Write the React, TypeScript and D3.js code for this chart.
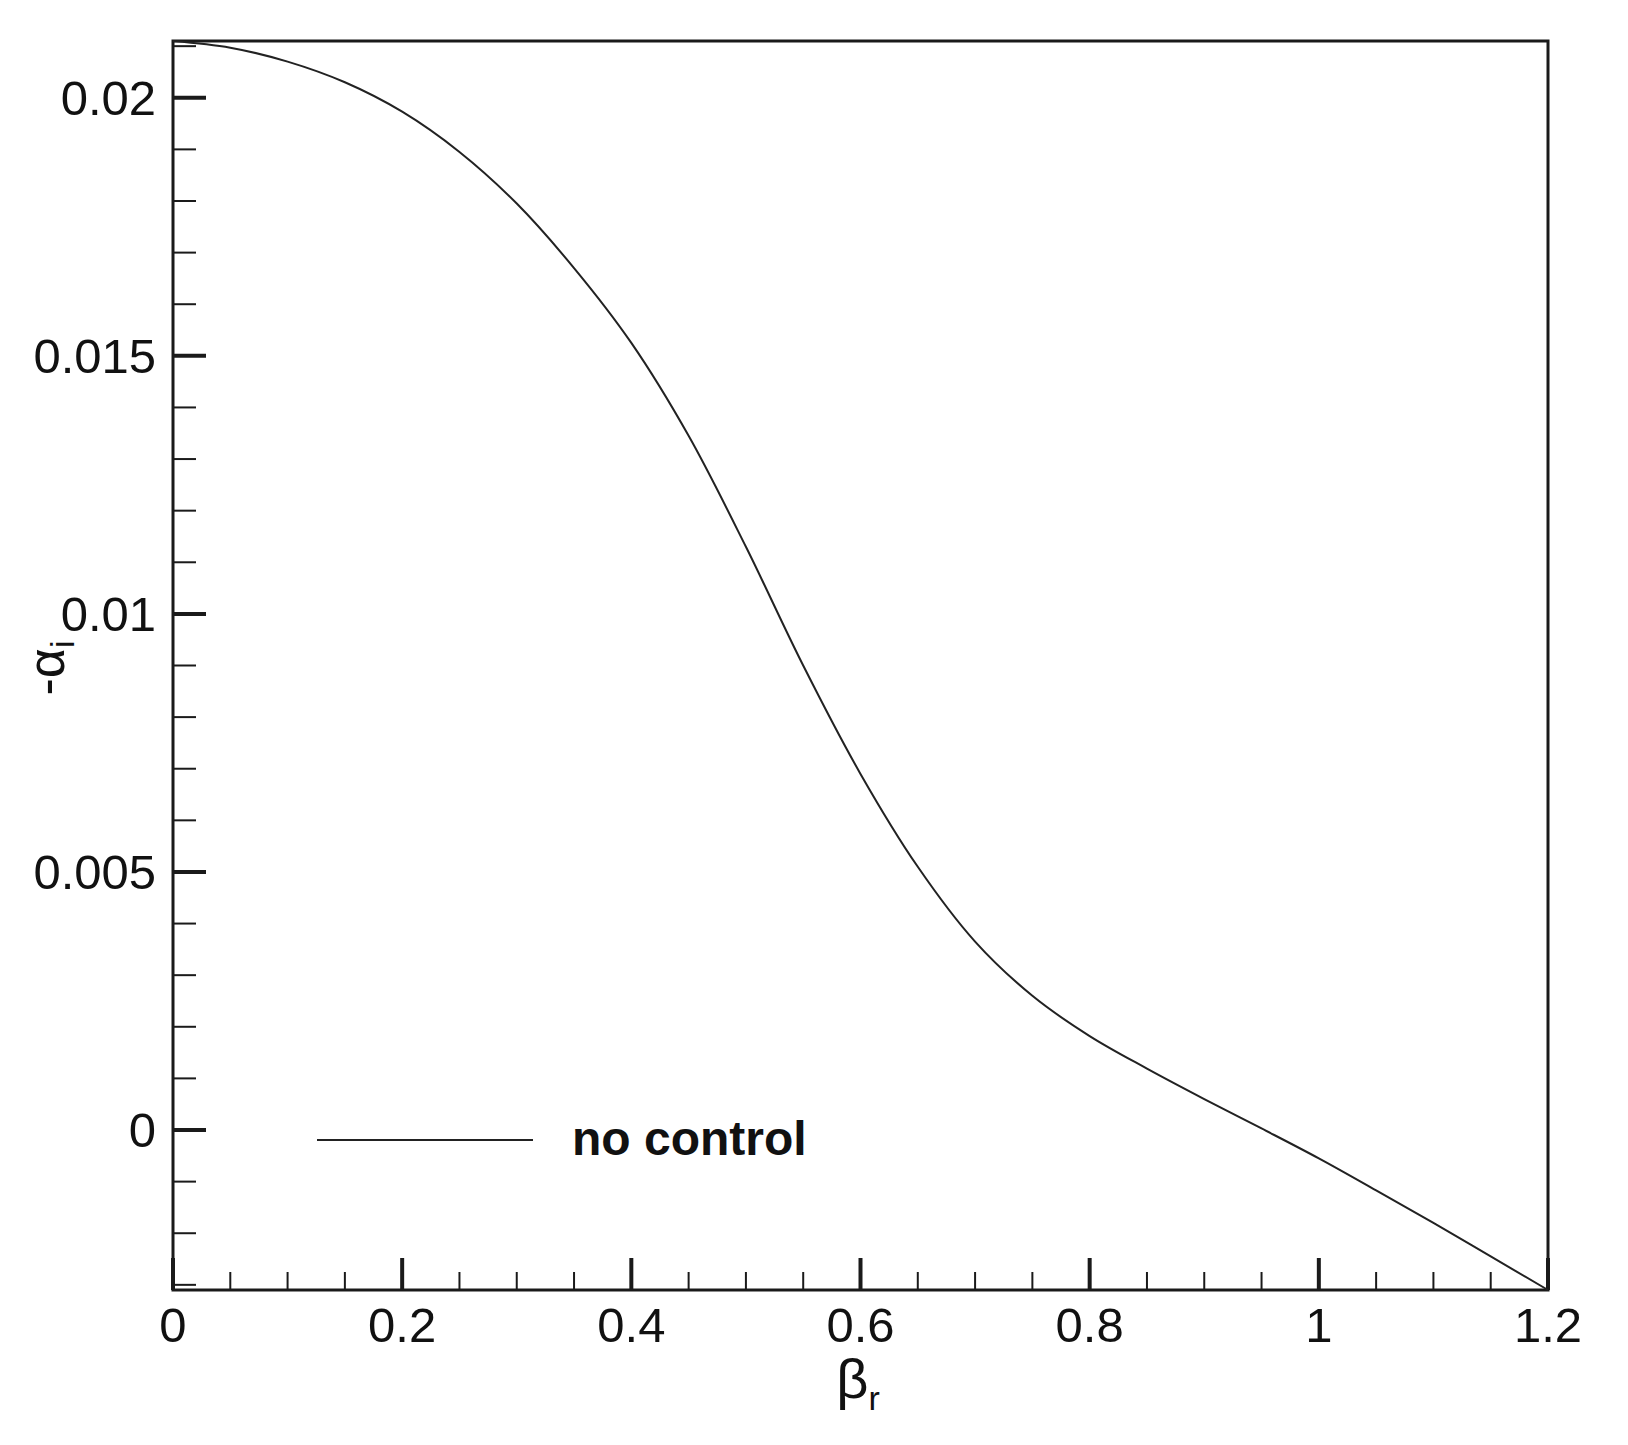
import React from "react";
import * as d3 from "d3";

const betaR = [0, 0.05, 0.1, 0.15, 0.2, 0.25, 0.3, 0.35, 0.4, 0.45, 0.5, 0.55, 0.6, 0.65, 0.7, 0.75, 0.8, 0.85, 0.9, 0.95, 1.0, 1.05, 1.1, 1.15, 1.2];
const alphaI = [0.0211, 0.02097, 0.0207, 0.0203, 0.01973, 0.01895, 0.01795, 0.0167, 0.01525, 0.01345, 0.0113, 0.0090, 0.0069, 0.0051, 0.00365, 0.0026, 0.00182, 0.00119, 0.0006, 0.00003, -0.00055, -0.00117, -0.0018, -0.00245, -0.0031];

const xMajorTicks = [0, 0.2, 0.4, 0.6, 0.8, 1.0, 1.2];
const xTickLabels = ["0", "0.2", "0.4", "0.6", "0.8", "1", "1.2"];
const yMajorTicks = [0, 0.005, 0.01, 0.015, 0.02];
const yTickLabels = ["0", "0.005", "0.01", "0.015", "0.02"];
const seriesName = "no control";

const W = 1628, H = 1445;
const L = 173, R = 1548, T = 41, B = 1290;

export default function App() {
  const x = d3.scaleLinear().domain([0, 1.2]).range([L, R]);
  const y = d3.scaleLinear().domain([-0.0031, 0.0211]).range([B, T]);
  const xMinor = d3.range(0, 1.2001, 0.05).filter((v) => !xMajorTicks.some((m) => Math.abs(m - v) < 1e-6));
  const yMinor = d3.range(-0.003, 0.02105, 0.001).filter((v) => !yMajorTicks.some((m) => Math.abs(m - v) < 1e-7));
  const pts = betaR.map((b, i) => [b, alphaI[i]] as [number, number]);
  const line = d3.line<[number, number]>().x((d) => x(d[0])).y((d) => y(d[1])).curve(d3.curveCatmullRom.alpha(0.5));
  const font = "'Liberation Sans', Arial, sans-serif";
  const col = "#1a1a1a";
  return (
    <svg width={W} height={H} style={{ position: "absolute", left: 0, top: 0, background: "#fff" }} fontFamily={font}>
      <rect x={0} y={0} width={W} height={H} fill="#fff" />
      {xMinor.map((v, i) => (
        <line key={"xm" + i} x1={x(v)} x2={x(v)} y1={B} y2={B - 18} stroke={col} strokeWidth={2} />
      ))}
      {yMinor.map((v, i) => (
        <line key={"ym" + i} x1={L} x2={L + 23} y1={y(v)} y2={y(v)} stroke={col} strokeWidth={2} />
      ))}
      {xMajorTicks.map((v, i) => (
        <line key={"xM" + i} x1={x(v)} x2={x(v)} y1={B} y2={B - 32} stroke={col} strokeWidth={4} />
      ))}
      {yMajorTicks.map((v, i) => (
        <line key={"yM" + i} x1={L} x2={L + 33} y1={y(v)} y2={y(v)} stroke={col} strokeWidth={4} />
      ))}
      <rect x={L} y={T} width={R - L} height={B - T} fill="none" stroke={col} strokeWidth={3} />
      <path d={line(pts) || ""} fill="none" stroke="#222" strokeWidth={2} />
      {xMajorTicks.map((v, i) => (
        <text key={"xl" + i} x={x(v)} y={1342} textAnchor="middle" fontSize={49} fill="#111">
          {xTickLabels[i]}
        </text>
      ))}
      {yMajorTicks.map((v, i) => (
        <text key={"yl" + i} x={156} y={y(v) + 17} textAnchor="end" fontSize={49} fill="#111">
          {yTickLabels[i]}
        </text>
      ))}
      <text x={858} y={1398} textAnchor="middle" fontSize={56} fill="#111">
        β<tspan fontSize={34} dy={12}>r</tspan>
      </text>
      <text transform="translate(64,668) rotate(-90)" textAnchor="middle" fontSize={52} fill="#111">
        -α<tspan fontSize={34} dy={10}>i</tspan>
      </text>
      <line x1={317} x2={533} y1={1140} y2={1140} stroke="#222" strokeWidth={2} />
      <text x={572} y={1155} fontSize={48} fontWeight="bold" fill="#111">
        {seriesName}
      </text>
    </svg>
  );
}
